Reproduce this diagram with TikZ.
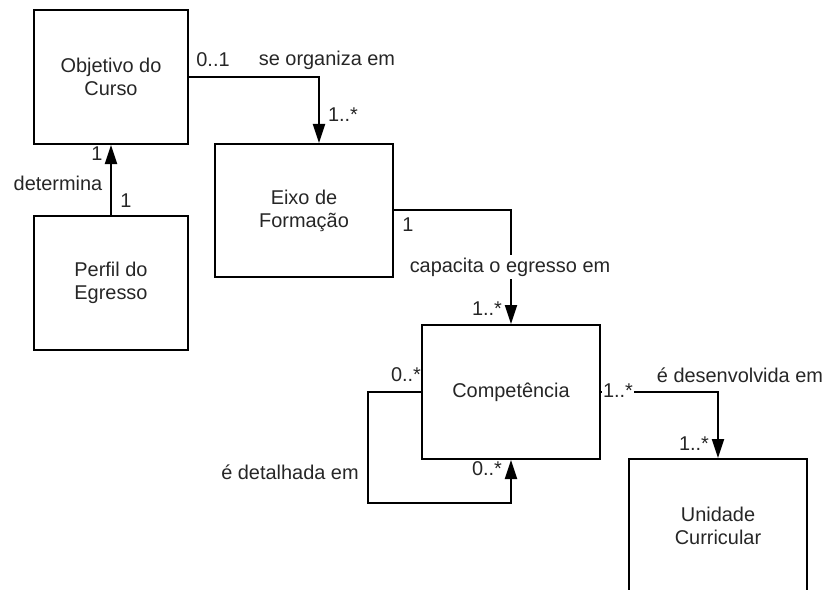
\documentclass[tikz,border=0pt]{standalone}
\usepackage{fontspec}
\setmainfont{Liberation Sans}
\usetikzlibrary{arrows.meta}
\begin{document}
\begin{tikzpicture}[x=1bp,y=-1bp,
  box/.style={draw=black,line width=2bp,minimum width=178bp,minimum height=134bp,inner sep=0pt,align=center,text=black!85,font=\fontsize{20}{23}\selectfont},
  conn/.style={line width=2bp,draw=black},
  arr/.style={conn,-{Triangle[length=19bp,width=12bp]}},
  lbl/.style={text=black!85,font=\fontsize{20}{23}\selectfont,inner sep=1bp}
]
\useasboundingbox (0,0) rectangle (824,590);
\clip (0,0) rectangle (824,590);
% boxes
\node[box,minimum width=153bp] (obj) at (111,77) {Objetivo do\\Curso};
\node[box,minimum width=154bp] (perf) at (111,283) {Perfil do\\Egresso};
\node[box,minimum height=133bp] (eixo) at (304,210.5) {Eixo de\\Formação};
\node[box] (comp) at (511,392) {Competência};
\node[box] (uc) at (718,526) {Unidade\\Curricular};
% helper coordinates
\path (eixo.north) ++(15,0) coordinate (eixoIn);
\path (comp.west) ++(-53,111) coordinate (loopC);
% connectors
\draw[arr] (obj.east) -| (eixoIn);
\draw[arr] (perf.north) -- (obj.south);
\draw[arr] (eixo.east) -| (comp.north);
\draw[arr] (comp.east) -| (uc.north);
\draw[arr] (comp.west) -| (loopC) -| (comp.south);
% labels
\node[lbl] (l01) at (213,60) {0..1};
\node[lbl] (lse) at (327,60) {se organiza em};
\node[lbl] (l1s) at (343,115) {1..*};
\node[lbl] (ld1) at (97,154) {1};
\node[lbl] (ldet) at (58,183) {determina};
\node[lbl] (ld2) at (126,201) {1};
\node[lbl] (le1) at (408,225) {1};
\node[lbl,fill=white,inner sep=3bp] (lcap) at (510,267) {capacita o egresso em};
\node[lbl] (lc1) at (487,309) {1..*};
\node[lbl] (lc0) at (406,375) {0..*};
\node[lbl,fill=white] (lr1) at (618,391) {1..*};
\node[lbl] (ldes) at (740,375) {é desenvolvida em};
\node[lbl] (lb0) at (487,469) {0..*};
\node[lbl] (lu1) at (694,444) {1..*};
\node[lbl] (ldt) at (290,472) {é detalhada em};
\end{tikzpicture}
\end{document}
